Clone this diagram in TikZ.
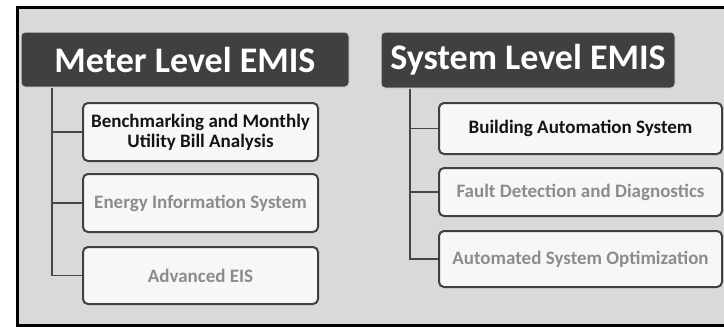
\documentclass[tikz,border=0pt]{standalone}
\usepackage{fontspec}
\setmainfont{Carlito}
\begin{document}
\begin{tikzpicture}[x=1pt,y=-1pt,
  hdr/.style={draw=white!85!black,line width=1pt,fill=black!75,rounded corners=4pt,text=white,
    font=\fontsize{36}{38}\selectfont\bfseries,inner sep=0pt},
  item/.style={draw=black!75,line width=2pt,fill=white!97!black,rounded corners=5pt,
    font=\fontsize{19}{20}\selectfont\bfseries,inner sep=0pt,align=center},
  dark/.style={text=black!92},
  pale/.style={text=black!45},
  conn/.style={draw=black!72,line width=1.8pt}]
\useasboundingbox (0,0) rectangle (724,327);
\begin{scope}
\clip (0,0) rectangle (724,327);
\draw[line width=3pt,fill=black!15] (17.5,7) rectangle (740,325.5);
\end{scope}
% left column
\node[hdr,minimum width=328pt,minimum height=55pt] (h1) at (185,59.5) {Meter Level EMIS};
\node[item,dark,minimum width=235pt,minimum height=58pt] (b1) at (200.5,132) {Benchmarking and Monthly\\Utility Bill Analysis};
\node[item,pale,minimum width=235pt,minimum height=58pt] (b2) at (200.5,203) {Energy Information System};
\node[item,pale,minimum width=235pt,minimum height=57pt] (b3) at (200.5,275.5) {Advanced EIS};
\coordinate (t1) at (h1.south -| 52,0);
\draw[conn] (t1) |- (b3.west);
\draw[conn] (t1 |- b1.west) -- (b1.west);
\draw[conn] (t1 |- b2.west) -- (b2.west);
% right column
\node[hdr,minimum width=294pt,minimum height=56pt] (h2) at (528,60) {System Level EMIS};
\node[item,dark,minimum width=283pt,minimum height=51pt] (c1) at (580.5,128.5) {Building Automation System};
\node[item,pale,minimum width=283pt,minimum height=48pt] (c2) at (580.5,192) {Fault Detection and Diagnostics};
\node[item,pale,minimum width=283pt,minimum height=56pt] (c3) at (580.5,259) {Automated System Optimization};
\coordinate (t2) at (h2.south -| 410,0);
\draw[conn] (t2) |- (c3.west);
\draw[conn] (t2 |- c1.west) -- (c1.west);
\draw[conn] (t2 |- c2.west) -- (c2.west);
\end{tikzpicture}
\end{document}
